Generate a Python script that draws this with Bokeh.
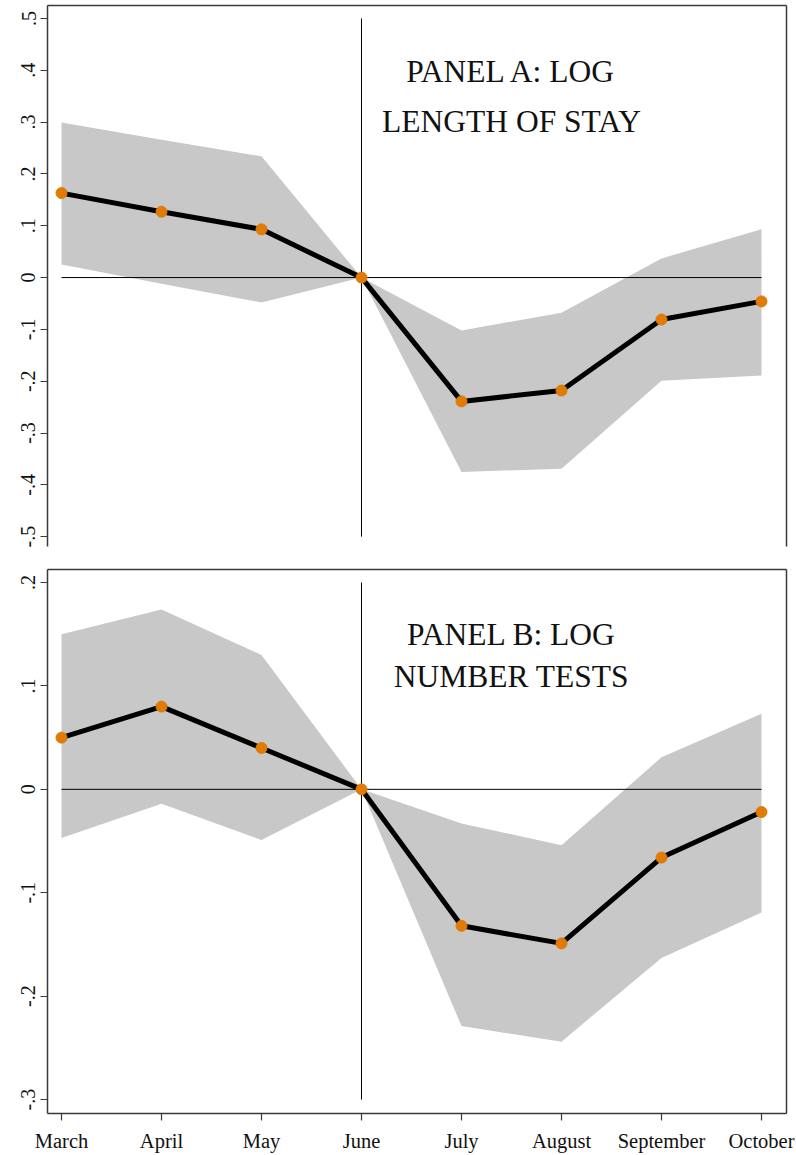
from bokeh.plotting import figure
from bokeh.models import Range1d, FixedTicker, LinearAxis, Label
from bokeh.layouts import column
from bokeh.embed import file_html
from bokeh.resources import INLINE

months = ["March", "April", "May", "June", "July", "August", "September", "October"]
xs = list(range(len(months)))

a_coef = [0.163, 0.127, 0.093, 0.0, -0.239, -0.218, -0.081, -0.046]
a_hi = [0.299, 0.266, 0.234, 0.0, -0.102, -0.068, 0.037, 0.093]
a_lo = [0.025, -0.012, -0.048, 0.0, -0.375, -0.369, -0.199, -0.189]

b_coef = [0.050, 0.080, 0.040, 0.0, -0.132, -0.149, -0.066, -0.022]
b_hi = [0.150, 0.174, 0.130, 0.0, -0.033, -0.054, 0.031, 0.073]
b_lo = [-0.047, -0.014, -0.049, 0.0, -0.229, -0.244, -0.163, -0.119]

a_ticks = [-0.5, -0.4, -0.3, -0.2, -0.1, 0.0, 0.1, 0.2, 0.3, 0.4, 0.5]
a_tick_labels = ["-.5", "-.4", "-.3", "-.2", "-.1", "0", ".1", ".2", ".3", ".4", ".5"]
b_ticks = [-0.3, -0.2, -0.1, 0.0, 0.1, 0.2]
b_tick_labels = ["-.3", "-.2", "-.1", "0", ".1", ".2"]

a_title = ["PANEL A: LOG", "LENGTH OF STAY"]
b_title = ["PANEL B: LOG", "NUMBER TESTS"]

FONT = "Liberation Serif"
AXC = "#3a3a3a"
BAND = "#c8c8c8"
ORANGE = "#e07b05"


def style_axis(ax, size):
    ax.axis_line_color = AXC
    ax.axis_line_width = 1.5
    ax.major_tick_line_color = AXC
    ax.major_tick_line_width = 1.2
    ax.major_tick_in = 0
    ax.major_tick_out = 7
    ax.minor_tick_line_color = None
    ax.major_label_text_font = FONT
    ax.major_label_text_font_size = size
    ax.major_label_text_color = "#111111"


def frame_axis(p, side):
    ax = LinearAxis(ticker=FixedTicker(ticks=[]))
    ax.axis_line_color = AXC
    ax.axis_line_width = 1.5
    ax.major_tick_line_color = None
    ax.minor_tick_line_color = None
    ax.major_label_text_font_size = "0px"
    ax.major_label_standoff = 0
    p.add_layout(ax, side)


def make_panel(coef, hi, lo, ticks, tick_labels, yr, title, title_y, height, top, bottom, show_x):
    p = figure(width=796, height=height, output_backend="svg", toolbar_location=None,
               x_range=Range1d(-0.14, 7.25), y_range=Range1d(*yr),
               min_border_left=47, min_border_right=10,
               min_border_top=top, min_border_bottom=bottom,
               x_axis_location="below" if show_x else None)
    p.outline_line_color = None
    p.grid.visible = False
    p.background_fill_color = "white"
    p.border_fill_color = "white"

    p.varea(x=xs, y1=lo, y2=hi, fill_color=BAND, fill_alpha=1.0)
    p.line(x=[xs[0], xs[-1]], y=[0, 0], line_color="black", line_width=1)
    p.segment(x0=[xs[3]], y0=[min(ticks)], x1=[xs[3]], y1=[max(ticks)], line_color="black", line_width=1)
    p.line(x=xs, y=coef, line_color="black", line_width=5)
    p.scatter(x=xs, y=coef, size=11, fill_color=ORANGE, line_color=ORANGE)

    yax = p.yaxis[0]
    yax.ticker = FixedTicker(ticks=ticks)
    yax.major_label_overrides = {t: l for t, l in zip(ticks, tick_labels)}
    yax.major_label_orientation = "vertical"
    yax.major_label_standoff = 5
    style_axis(yax, "20px")

    if show_x:
        xax = p.xaxis[0]
        xax.ticker = FixedTicker(ticks=xs)
        xax.major_label_overrides = {x: m for x, m in zip(xs, months)}
        xax.major_label_standoff = 9
        style_axis(xax, "20.5px")

    frame_axis(p, "above")
    frame_axis(p, "right")

    for txt, ty in zip(title, title_y):
        p.add_layout(Label(x=4.5, y=ty, text=txt, text_font=FONT, text_font_size="31.5px",
                           text_align="center", text_baseline="middle", text_color="#111111"))
    return p


p1 = make_panel(a_coef, a_hi, a_lo, a_ticks, a_tick_labels, (-0.519, 0.525), a_title,
                [0.398, 0.301], 556, 5, 10, False)
p2 = make_panel(b_coef, b_hi, b_lo, b_ticks, b_tick_labels, (-0.3135, 0.2126), b_title,
                [0.150, 0.109], 599, 13, 42, True)

layout = column(p1, p2, spacing=0)
open("out.html", "w").write(file_html(layout, INLINE))
